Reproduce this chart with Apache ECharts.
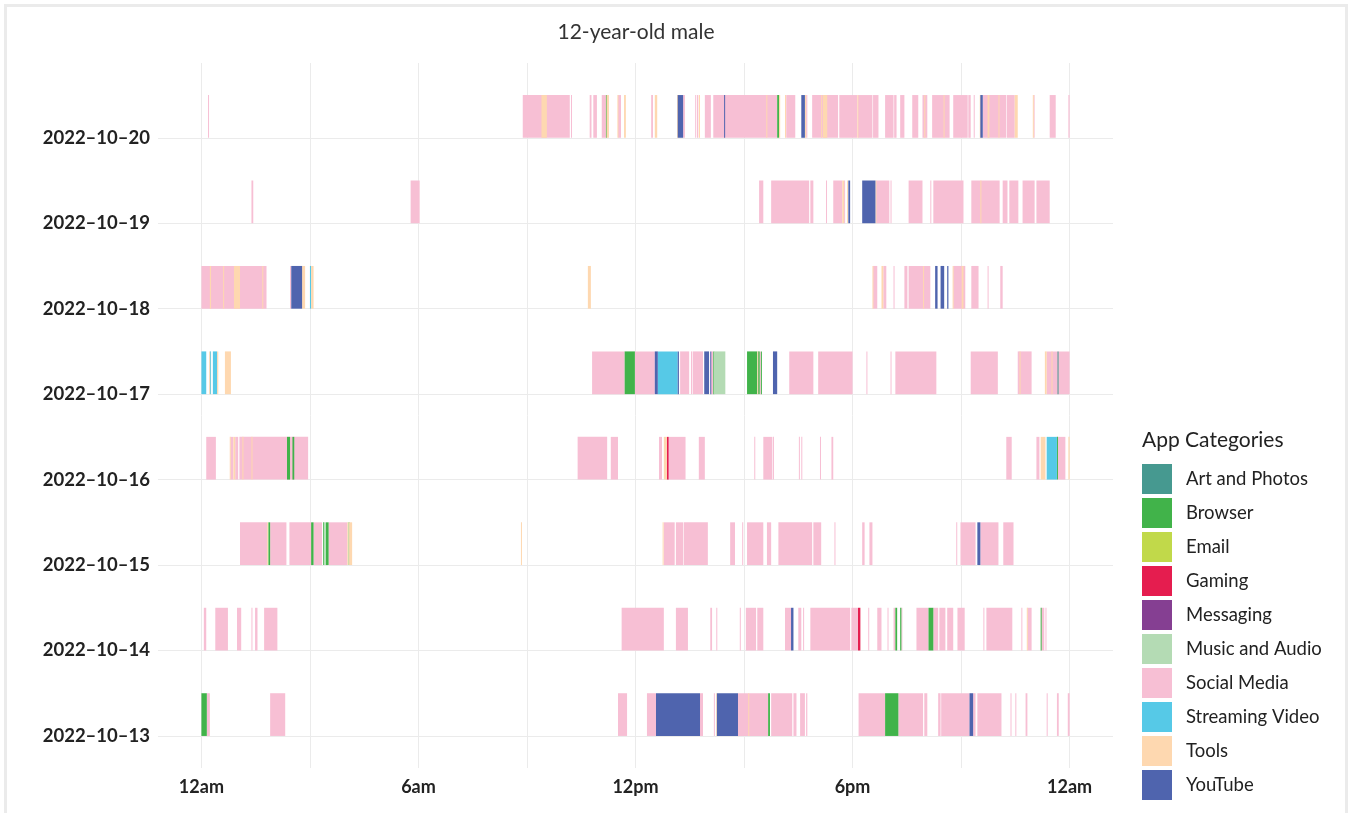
<!DOCTYPE html>
<html>
<head>
<meta charset="utf-8">
<script src="https://cdn.jsdelivr.net/npm/echarts@6/dist/echarts.min.js"></script>
<style>
  html, body { margin: 0; padding: 0; background: #fff; }
  #chart { width: 1352px; height: 813px; }
</style>
</head>
<body>
<div id="chart"></div>
<script>
// app categories, legend order
var categories = ["Art and Photos", "Browser", "Email", "Gaming", "Messaging",
  "Music and Audio", "Social Media", "Streaming Video", "Tools", "YouTube"];
var codes = ["A", "B", "E", "G", "M", "U", "S", "V", "T", "Y"];
var colors = ["#469990", "#41b34a", "#c1d94a", "#e51d4f", "#853f92",
  "#b4dbb4", "#f7bfd4", "#56c9e7", "#fed8b0", "#4f64ae"];

var dayLabels = ["2022–10–13", "2022–10–14", "2022–10–15", "2022–10–16",
  "2022–10–17", "2022–10–18", "2022–10–19", "2022–10–20"];
var hourTicks = [0, 6, 12, 18, 24];
var hourLabels = ["12am", "6am", "12pm", "6pm", "12am"];

// sessions: "start-end category"
var oct13 = ["00:00-00:09 B", "00:09-00:14 S", "01:54-02:19 S",
  "11:31-11:46 S", "12:19-12:34 S", "12:34-13:47 Y", "13:47-13:52 S",
  "14:10-14:11 S", "14:14-14:15 T", "14:15-14:50 Y", "14:50-15:40 S", "15:07-15:08 T", "15:40-15:43 B",
  "15:45-16:20 S", "16:22-16:27 S", "16:33-16:41 S", "16:43-16:45 S",
  "18:10-18:54 S", "18:54-19:16 B", "19:16-19:57 S", "19:59-20:04 S",
  "20:22-20:26 S", "20:27-21:14 S", "21:14-21:20 Y", "21:20-21:24 S", "21:27-22:07 S",
  "22:22-22:23 S", "22:30-22:31 S", "22:47-22:50 S", "23:22-23:23 S", "23:39-23:42 S", "23:57-24:00 S"];

var oct14 = ["00:04-00:08 S", "00:23-00:44 S", "00:59-01:06 S", "01:23-01:24 S", "01:29-01:33 S", "01:44-02:06 S",
  "11:37-12:47 S", "13:07-13:27 S", "14:04-14:07 S", "14:14-14:15 S", "14:53-14:54 S",
  "15:03-15:20 S", "15:22-15:32 S",
  "16:08-16:18 S", "16:18-16:22 Y", "16:30-16:35 S", "16:38-16:39 S",
  "16:50-17:56 S", "17:58-18:09 S", "18:09-18:13 G",
  "18:26-18:27 S", "18:41-18:48 S", "18:58-18:59 S",
  "19:08-19:11 S", "19:11-19:14 B", "19:19-19:21 B", "19:21-19:22 S",
  "19:46-20:06 S", "20:06-20:14 B", "20:14-20:22 S", "20:24-20:34 S", "20:37-20:47 S", "20:54-21:06 S",
  "21:37-21:38 S", "21:42-22:25 S", "22:40-22:41 S", "22:49-22:50 T", "22:50-22:57 S",
  "23:12-23:13 B", "23:13-23:18 S", "23:20-23:21 S"];

var oct15 = ["01:04-01:49 S", "01:49-01:50 T", "01:51-01:54 B", "01:54-02:21 S",
  "02:26-03:02 S", "03:02-03:06 B", "03:06-03:20 S", "03:22-03:24 B", "03:26-03:31 B",
  "03:31-04:02 S", "04:02-04:04 T", "04:04-04:05 B", "04:05-04:10 T",
  "08:50-08:51 T",
  "12:45-12:46 T", "12:47-13:05 S", "13:07-13:19 S", "13:20-14:00 S",
  "14:37-14:45 S", "14:57-14:58 S", "15:05-15:32 S", "15:38-15:45 S",
  "15:57-16:53 S", "16:55-17:08 S", "17:30-17:31 S", "18:16-18:20 S", "18:28-18:33 S",
  "20:52-20:53 S", "20:59-21:24 S", "21:27-21:32 Y", "21:32-22:02 S", "22:10-22:27 S"];

var oct16 = ["00:08-00:24 S",
  "00:47-00:48 T", "00:48-00:53 S", "00:53-00:56 T", "00:56-01:01 S",
  "01:03-02:57 S", "01:08-01:09 T", "01:23-01:24 T", "02:22-02:27 B", "02:31-02:34 B",
  "10:24-11:13 S", "11:19-11:31 S",
  "12:39-12:44 S", "12:47-12:52 T", "12:52-12:55 G", "12:55-13:23 S",
  "13:45-13:55 S",
  "15:17-15:18 S", "15:32-15:47 S", "15:48-15:49 S",
  "16:31-16:32 S", "16:35-16:36 S", "17:06-17:07 S", "17:25-17:28 S",
  "22:15-22:24 S", "23:05-23:10 S", "23:12-23:20 T", "23:22-23:39 V", "23:39-23:40 B",
  "23:40-23:53 S", "23:58-24:00 T"];

var oct17 = ["00:00-00:08 V", "00:13-00:14 T", "00:14-00:16 V", "00:19-00:26 V", "00:26-00:28 T",
  "00:39-00:49 T",
  "10:48-11:42 S", "11:42-11:59 B", "11:59-12:32 S", "12:32-12:37 Y", "12:37-13:10 V", "13:10-13:12 Y",
  "13:14-13:29 S", "13:32-13:34 S", "13:35-13:52 S", "13:54-14:02 Y", "14:04-14:05 Y",
  "14:05-14:09 S", "14:09-14:10 B", "14:10-14:29 U",
  "15:05-15:22 B", "15:22-15:23 T", "15:23-15:26 B", "15:26-15:28 S", "15:28-15:29 B",
  "15:48-15:55 Y",
  "16:15-16:55 S", "17:03-18:00 S", "18:23-18:24 S", "19:03-19:04 S", "19:11-20:19 S",
  "21:16-22:01 S", "22:34-22:57 S", "22:37-22:38 T",
  "23:19-23:22 T", "23:22-24:00 S", "23:30-23:31 T", "23:40-23:41 A"];

var oct18 = ["00:00-01:48 S", "00:14-00:16 T", "00:36-00:37 T", "00:54-01:04 T", "01:41-01:42 T",
  "02:27-02:28 S", "02:29-02:47 Y", "02:47-02:52 T",
  "03:00-03:02 V", "03:02-03:06 T",
  "10:41-10:46 T",
  "18:33-18:34 T", "18:34-18:41 S", "18:48-18:51 T", "18:51-18:56 S",
  "19:08-19:09 S", "19:26-19:31 S", "19:33-20:09 S", "19:57-19:58 T",
  "20:17-20:21 Y", "20:26-20:32 Y", "20:37-20:39 Y",
  "20:46-20:47 T", "20:47-21:07 S", "21:01-21:04 T",
  "21:17-21:29 S", "21:44-21:45 S", "22:05-22:09 S"];

var oct19 = ["01:23-01:26 S", "05:47-06:02 S",
  "15:25-15:32 S", "15:45-16:48 S", "16:50-16:55 S", "17:16-17:17 S",
  "17:28-17:43 S", "17:43-17:46 T", "17:46-17:47 S", "17:51-17:52 T", "17:53-17:56 Y",
  "18:16-18:38 Y", "18:38-18:39 T", "18:39-19:01 S", "19:03-19:04 S",
  "19:33-19:56 S", "20:09-20:10 S", "20:14-21:04 S",
  "21:17-22:04 S", "21:32-21:33 T",
  "22:09-22:17 S", "22:20-22:35 S", "22:42-23:02 S", "23:05-23:27 S"];

var oct20 = ["00:11-00:12 S",
  "08:53-10:11 S", "09:24-09:33 T",
  "10:13-10:14 S",
  "10:44-10:47 S", "10:50-10:56 S",
  "11:04-11:11 S", "11:11-11:12 B", "11:12-11:16 T",
  "11:30-11:31 T", "11:31-11:36 S",
  "11:41-11:44 T",
  "12:26-12:29 S", "12:32-12:36 T",
  "13:09-13:10 T", "13:10-13:19 Y", "13:19-13:22 S",
  "13:39-13:40 S", "13:42-13:44 S", "13:45-13:47 T",
  "13:55-14:05 S",
  "14:09-15:55 S", "14:27-14:28 Y", "15:37-15:38 T", "15:55-15:58 B", "15:58-16:00 T",
  "16:08-16:09 T", "16:10-16:25 S",
  "16:35-16:41 Y", "16:41-16:43 T", "16:43-16:45 S",
  "16:53-17:36 S", "17:08-17:09 T", "17:11-17:18 T",
  "17:38-18:08 S", "18:08-18:09 T", "18:09-18:33 S", "18:34-18:43 S",
  "18:54-19:08 S", "19:09-19:13 S", "19:19-19:26 S", "19:39-19:49 S",
  "19:56-20:04 S", "19:59-20:00 T",
  "20:12-20:41 S", "20:31-20:32 T",
  "20:47-21:11 S", "21:12-21:16 S", "21:21-21:22 S",
  "21:31-21:32 T", "21:32-21:36 Y",
  "21:36-22:15 S", "21:44-21:47 T", "22:02-22:03 T", "22:16-22:29 S", "22:29-22:34 T",
  "22:59-23:00 T", "23:00-23:02 S",
  "23:27-23:37 S", "23:58-24:00 S"];

var days = [oct13, oct14, oct15, oct16, oct17, oct18, oct19, oct20];

function toHour(t) {
  var p = t.split(':');
  return +p[0] + p[1] / 60;
}

function renderItem(params, api) {
  var a = api.coord([api.value(0), api.value(2) + 0.5]);
  var b = api.coord([api.value(1), api.value(2)]);
  return {
    type: 'rect',
    shape: { x: a[0], y: a[1], width: Math.max(b[0] - a[0], 1), height: b[1] - a[1] },
    style: api.style()
  };
}

var series = categories.map(function (name, ci) {
  var data = [];
  days.forEach(function (list, di) {
    list.forEach(function (s) {
      var parts = s.split(' ');
      if (parts[1] !== codes[ci]) return;
      var r = parts[0].split('-');
      data.push([toHour(r[0]), toHour(r[1]), di]);
    });
  });
  return {
    type: 'custom',
    name: name,
    z: name === 'Social Media' ? 2 : 3,
    itemStyle: { color: colors[ci] },
    encode: { x: [0, 1], y: 2 },
    renderItem: renderItem,
    data: data
  };
});

var chart = echarts.init(document.getElementById('chart'));
chart.setOption({
  animation: false,
  textStyle: { fontFamily: 'Lato' },
  graphic: [
    { type: 'rect', shape: { x: 5.5, y: 5.5, width: 1341, height: 830 },
      style: { fill: 'none', stroke: '#ebebeb', lineWidth: 3 }, silent: true },
    { type: 'text', x: 636, y: 32,
      style: { text: '12-year-old male', font: '21px Lato', fill: '#333',
        align: 'center', verticalAlign: 'middle', textAlign: 'center', textVerticalAlign: 'middle' } },
    { type: 'text', x: 1142, y: 440,
      style: { text: 'App Categories', font: '21px Lato', fill: '#222',
        align: 'left', verticalAlign: 'middle', textAlign: 'left', textVerticalAlign: 'middle' } }
  ],
  legend: {
    data: categories,
    orient: 'vertical',
    left: 1142,
    top: 464,
    padding: 0,
    icon: 'rect',
    itemWidth: 30,
    itemHeight: 30,
    itemGap: 4,
    selectedMode: false,
    textStyle: { fontSize: 18.5, color: '#222', fontFamily: 'Lato', padding: [2, 0, 0, 9] }
  },
  grid: { left: 158, right: 239, top: 63, bottom: 45, outerBoundsMode: 'none' },
  xAxis: {
    type: 'value',
    min: -1.2,
    max: 25.2,
    axisLine: { show: false },
    axisTick: { show: false, customValues: [0, 3, 6, 9, 12, 15, 18, 21, 24] },
    axisLabel: {
      customValues: hourTicks,
      margin: 10,
      fontSize: 18,
      fontWeight: 'bold',
      color: '#222',
      formatter: function (v) { return hourLabels[hourTicks.indexOf(v)]; }
    },
    splitLine: { show: true, lineStyle: { color: '#ebebeb', width: 1 } }
  },
  yAxis: {
    type: 'value',
    min: -0.375,
    max: 7.875,
    axisLine: { show: false },
    axisTick: { show: false, customValues: [0, 1, 2, 3, 4, 5, 6, 7] },
    axisLabel: {
      customValues: [0, 1, 2, 3, 4, 5, 6, 7],
      margin: 8,
      fontSize: 18.5,
      fontWeight: 'bold',
      color: '#222',
      formatter: function (v) { return dayLabels[v]; }
    },
    splitLine: { show: true, lineStyle: { color: '#ebebeb', width: 1 } }
  },
  series: series
});
</script>
</body>
</html>
